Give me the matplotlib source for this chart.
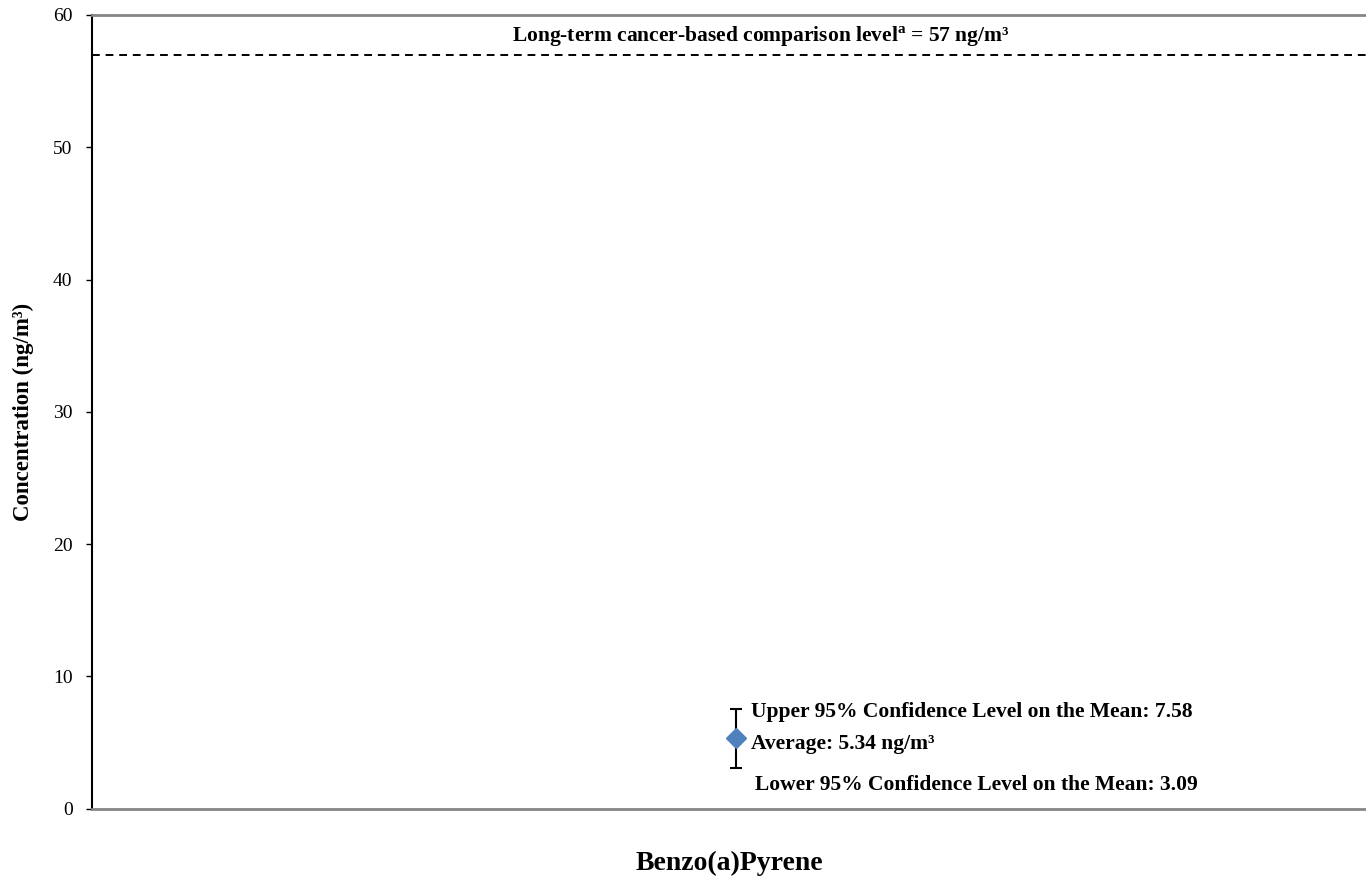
import matplotlib.pyplot as plt

plt.rcParams['font.family'] = ['Liberation Serif', 'DejaVu Serif']
plt.rcParams['mathtext.fontset'] = 'custom'
plt.rcParams['mathtext.rm'] = 'Liberation Serif'
plt.rcParams['mathtext.bf'] = 'Liberation Serif:bold'

# data
pollutant = ["Benzo(a)Pyrene"]
average = [5.34]
upper_95 = [7.58]
lower_95 = [3.09]
comparison_level = 57
y_ticks = [0, 10, 20, 30, 40, 50, 60]

fig, ax = plt.subplots(figsize=(13.66, 8.82), dpi=100)
fig.subplots_adjust(left=0.0674, right=1.0, top=0.983, bottom=0.083)

x = list(range(len(pollutant)))
err_low = [a - l for a, l in zip(average, lower_95)]
err_high = [u - a for a, u in zip(average, upper_95)]
ax.errorbar(x, average, yerr=[err_low, err_high], fmt='none', ecolor='black',
            elinewidth=1.5, capsize=4.5, capthick=1.5, zorder=2)
ax.plot(x, average, linestyle='none', marker='D', markersize=10.5,
        color='#4F81BD', markeredgecolor='#4F81BD', zorder=3)

# comparison level line
ax.axhline(comparison_level, color='black', linestyle=(0, (4, 3)), linewidth=1.4)
ax.text(0.0195, comparison_level + 0.45,
        f"Long-term cancer-based comparison level$^{{\\mathbf{{a}}}}$ = {comparison_level} ng/m³",
        ha='center', va='bottom', fontsize=15.5, fontweight='bold')

# annotations
for xi, a, u, l in zip(x, average, upper_95, lower_95):
    ax.annotate(f"Upper 95% Confidence Level on the Mean: {u:.2f}", (xi, u),
                xytext=(11, -2.5), textcoords='offset points',
                ha='left', va='center', fontsize=15.5, fontweight='bold')
    ax.annotate(f"Average: {a:.2f} ng/m³", (xi, a),
                xytext=(11, -4), textcoords='offset points',
                ha='left', va='center', fontsize=15.5, fontweight='bold')
    ax.annotate(f"Lower 95% Confidence Level on the Mean: {l:.2f}", (xi, l),
                xytext=(14, -12.5), textcoords='offset points',
                ha='left', va='center', fontsize=15.5, fontweight='bold')

ax.set_xlim(-0.5055, 0.4945)
ax.set_ylim(0, 60)
ax.set_yticks(y_ticks)
ax.tick_params(axis='y', direction='out', length=4, width=1, labelsize=14, pad=10)
ax.set_xticks([])

ax.set_xlabel(pollutant[0], fontsize=20, fontweight='bold', labelpad=30)
ax.set_ylabel("Concentration (ng/m³)", fontsize=16.5, fontweight='bold', labelpad=14)

ax.spines['right'].set_visible(False)
ax.spines['top'].set_color('#868686')
ax.spines['bottom'].set_color('#868686')
ax.spines['top'].set_linewidth(2)
ax.spines['bottom'].set_linewidth(2)
ax.spines['left'].set_color('black')
ax.spines['left'].set_linewidth(1.5)

plt.savefig("out.png", dpi=100)
plt.close()
